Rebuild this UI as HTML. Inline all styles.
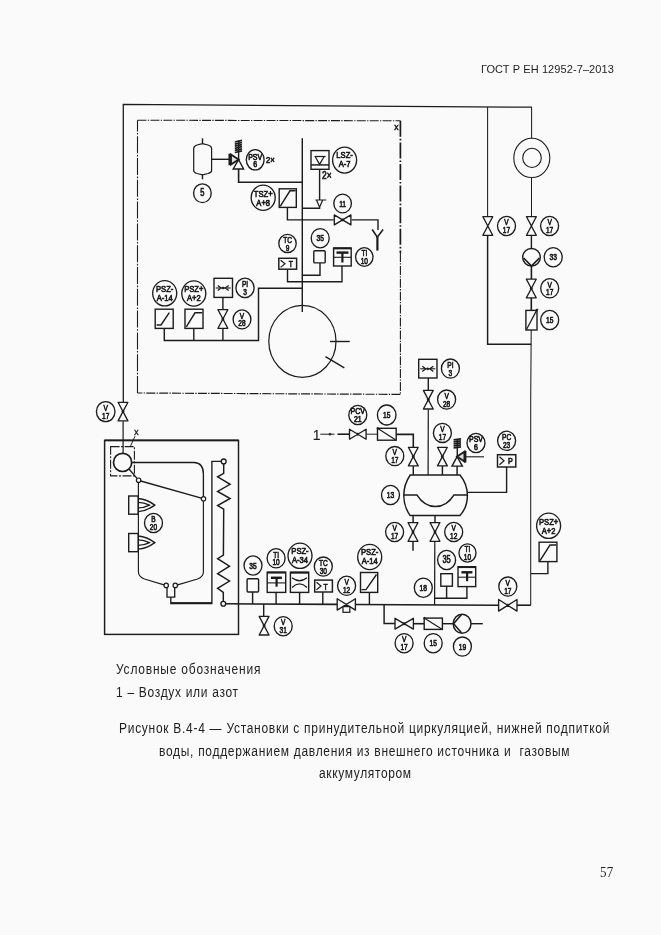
<!DOCTYPE html>
<html lang="ru">
<head>
<meta charset="utf-8">
<title>ГОСТ Р ЕН 12952-7–2013</title>
<style>
html,body{margin:0;padding:0;background:#fafafa;}
body{width:661px;height:935px;position:relative;overflow:hidden;font-family:"Liberation Sans",sans-serif;color:#1e1e1e;}
.t{position:absolute;white-space:pre;font-size:12px;line-height:14px;}
svg{position:absolute;left:0;top:0;will-change:transform;}
.t{will-change:transform;transform:scaleY(1.162);transform-origin:0 100%;}
svg text{font-family:"Liberation Sans",sans-serif;fill:#1c1c1c;}
</style>
</head>
<body>
<div class="t" style="left:480.5px;top:62.3px;font-size:11px;line-height:14px;letter-spacing:0.09px;transform:none">ГОСТ Р ЕН 12952-7–2013</div>
<svg width="661" height="935" viewBox="0 0 661 935">
<path d="M123.3 402.0 L123.3 104.4 L532.0 107.2" stroke="#1c1c1c" stroke-width="1.28" fill="none" />
<path d="M137.5 393.0 L137.5 120.2" stroke="#1c1c1c" stroke-width="1.10" fill="none" stroke-dasharray="17 1.6 1.6 1.6"/>
<path d="M137.5 120.2 L400.4 120.8" stroke="#1c1c1c" stroke-width="1.10" fill="none" stroke-dasharray="9 1.3 1.3 1.3"/>
<path d="M400.4 120.8 L400.4 253.0" stroke="#1c1c1c" stroke-width="1.71" fill="none" stroke-dasharray="16 2 1.6 2"/>
<path d="M400.4 253.0 L400.4 394.4" stroke="#1c1c1c" stroke-width="1.10" fill="none" stroke-dasharray="9 1.3 1.3 1.3"/>
<path d="M400.4 394.4 L137.5 393.0" stroke="#1c1c1c" stroke-width="1.16" fill="none" stroke-dasharray="9 1.3 1.3 1.3"/>
<text transform="translate(396.3 130.4) scale(0.9 1)" font-size="9.5" font-weight="normal" text-anchor="middle" stroke="#1c1c1c" stroke-width="0.5" >x</text>
<path d="M193.7 148.5 Q193.7 146 197 145 L202.5 143.6 L208 145 Q211.6 146 211.6 148.5 L211.6 170.5 Q211.6 172.5 208 173.5 L202.5 174.8 L197 173.5 Q193.7 172.5 193.7 170.5 Z" stroke="#1c1c1c" stroke-width="1.22" fill="none" />
<path d="M202.5 138.3 L202.5 143.6" stroke="#1c1c1c" stroke-width="1.40" fill="none" />
<path d="M202.5 174.8 L202.5 179.3" stroke="#1c1c1c" stroke-width="1.40" fill="none" />
<ellipse cx="202.4" cy="193.2" rx="8.8" ry="9.4" stroke="#1c1c1c" stroke-width="1.34" fill="none"/>
<text transform="translate(202.4 196.4) scale(0.72 1)" font-size="10.4" font-weight="normal" text-anchor="middle" stroke="#1c1c1c" stroke-width="0.7" >5</text>
<path d="M211.6 159.3 L229.0 159.3" stroke="#1c1c1c" stroke-width="1.40" fill="none" />
<path d="M229.8 153.6 L229.8 165.2" stroke="#1c1c1c" stroke-width="2.68" fill="none" />
<path d="M231 154.6 L238.6 159.6 L231 164.6 Z" stroke="#1c1c1c" stroke-width="1.83" fill="#ddd" />
<path d="M238.6 159.6 L233.2 169 L243.6 169 Z" stroke="#1c1c1c" stroke-width="1.40" fill="none" />
<path d="M238.6 159.6 L238.6 140.4" stroke="#1c1c1c" stroke-width="1.40" fill="none" />
<path d="M234.8 142.0 L242.0 140.4" stroke="#1c1c1c" stroke-width="1.71" fill="none" />
<path d="M234.8 144.1 L242.0 142.5" stroke="#1c1c1c" stroke-width="1.71" fill="none" />
<path d="M234.8 146.2 L242.0 144.6" stroke="#1c1c1c" stroke-width="1.71" fill="none" />
<path d="M234.8 148.3 L242.0 146.7" stroke="#1c1c1c" stroke-width="1.71" fill="none" />
<path d="M234.8 150.4 L242.0 148.8" stroke="#1c1c1c" stroke-width="1.71" fill="none" />
<path d="M234.8 152.5 L242.0 150.9" stroke="#1c1c1c" stroke-width="1.71" fill="none" />
<ellipse cx="255.2" cy="159.8" rx="8.9" ry="10.1" stroke="#1c1c1c" stroke-width="1.34" fill="none"/>
<text transform="translate(255.2 159.6) scale(0.8 1)" font-size="8.8" font-weight="normal" text-anchor="middle" stroke="#1c1c1c" stroke-width="0.7" >PSV</text>
<text transform="translate(255.2 167.4) scale(0.8 1)" font-size="8.8" font-weight="normal" text-anchor="middle" stroke="#1c1c1c" stroke-width="0.7" >6</text>
<text transform="translate(266.0 162.8) scale(0.85 1)" font-size="9" font-weight="normal" text-anchor="start" stroke="#1c1c1c" stroke-width="0.7" >2×</text>
<path d="M238.6 169.0 L238.6 182.2 L302.3 182.2" stroke="#1c1c1c" stroke-width="1.59" fill="none" />
<ellipse cx="263.2" cy="197.7" rx="12.0" ry="12.6" stroke="#1c1c1c" stroke-width="1.34" fill="none"/>
<text transform="translate(263.2 196.5) scale(0.8 1)" font-size="9.5" font-weight="normal" text-anchor="middle" stroke="#1c1c1c" stroke-width="0.7" >TSZ+</text>
<text transform="translate(263.2 205.6) scale(0.8 1)" font-size="9.5" font-weight="normal" text-anchor="middle" stroke="#1c1c1c" stroke-width="0.7" >A+8</text>
<rect x="279.2" y="188.8" width="17.1" height="18.6" stroke="#1c1c1c" stroke-width="1.40" fill="none" />
<path d="M280.2 206.4 L290.0 190.8 L295.5 190.8" stroke="#1c1c1c" stroke-width="1.40" fill="none" />
<path d="M287.4 207.4 L287.4 219.8 L333.6 219.9" stroke="#1c1c1c" stroke-width="1.40" fill="none" />
<path d="M302.3 138.2 L302.3 312.0" stroke="#1c1c1c" stroke-width="1.46" fill="none" />
<rect x="311.0" y="150.6" width="18.0" height="18.7" stroke="#1c1c1c" stroke-width="1.40" fill="none" />
<path d="M311.0 164.9 L329.0 164.9" stroke="#1c1c1c" stroke-width="1.46" fill="none" />
<path d="M314.6 156.5 L325.6 156.5" stroke="#1c1c1c" stroke-width="1.22" fill="none" />
<path d="M315.3 156.8 L319.6 164.4 L324 156.8" stroke="#1c1c1c" stroke-width="1.22" fill="none" />
<ellipse cx="344.6" cy="160.1" rx="12.0" ry="13.0" stroke="#1c1c1c" stroke-width="1.34" fill="none"/>
<text transform="translate(344.6 158.1) scale(0.8 1)" font-size="9.5" font-weight="normal" text-anchor="middle" stroke="#1c1c1c" stroke-width="0.7" >LSZ-</text>
<text transform="translate(344.6 167.2) scale(0.8 1)" font-size="9.5" font-weight="normal" text-anchor="middle" stroke="#1c1c1c" stroke-width="0.7" >A-7</text>
<text transform="translate(322.0 179.4) scale(0.8 1)" font-size="10.5" font-weight="normal" text-anchor="start" stroke="#1c1c1c" stroke-width="0.7" >2×</text>
<path d="M319.6 169.3 L319.6 200.0" stroke="#1c1c1c" stroke-width="1.40" fill="none" />
<path d="M315.4 200 L326.3 200 M316.6 200.3 L319.6 207.2 L322.6 200.3" stroke="#1c1c1c" stroke-width="1.22" fill="none" />
<path d="M319.6 207.2 L319.6 208.2 L302.3 208.2" stroke="#1c1c1c" stroke-width="1.40" fill="none" />
<ellipse cx="342.6" cy="203.5" rx="8.8" ry="9.4" stroke="#1c1c1c" stroke-width="1.34" fill="none"/>
<text transform="translate(342.6 206.7) scale(0.72 1)" font-size="9.3" font-weight="normal" text-anchor="middle" stroke="#1c1c1c" stroke-width="0.7" >11</text>
<path d="M334.3 214.9 L334.3 224.9 L350.9 214.9 L350.9 224.9 Z" stroke="#1c1c1c" stroke-width="1.34" fill="none" stroke-linejoin="round"/>
<ellipse cx="342.6" cy="219.9" rx="1.1" ry="1.1" stroke="#1c1c1c" stroke-width="0.73" fill="#1c1c1c"/>
<path d="M351.7 219.9 L378.0 219.9 L378.0 230.0" stroke="#1c1c1c" stroke-width="1.40" fill="none" />
<path d="M372.2 229.5 L377.3 237.2 L383.1 229.5" stroke="#1c1c1c" stroke-width="1.59" fill="none" />
<path d="M377.4 237.0 L377.4 250.6" stroke="#1c1c1c" stroke-width="2.20" fill="none" />
<ellipse cx="287.5" cy="243.5" rx="8.7" ry="9.1" stroke="#1c1c1c" stroke-width="1.34" fill="none"/>
<text transform="translate(287.5 242.7) scale(0.7 1)" font-size="9.4" font-weight="normal" text-anchor="middle" stroke="#1c1c1c" stroke-width="0.7" >TC</text>
<text transform="translate(287.5 250.5) scale(0.7 1)" font-size="9.4" font-weight="normal" text-anchor="middle" stroke="#1c1c1c" stroke-width="0.7" >9</text>
<rect x="278.8" y="258.3" width="17.8" height="10.9" stroke="#1c1c1c" stroke-width="1.46" fill="none" />
<path d="M280.6 260.2 L285 263.8 L280.6 267.4" stroke="#1c1c1c" stroke-width="1.22" fill="none" />
<text transform="translate(290.8 267.4) scale(0.75 1)" font-size="9" font-weight="normal" text-anchor="middle" stroke="#1c1c1c" stroke-width="0.7" >T</text>
<path d="M287.5 269.2 L287.5 281.7 L342.0 281.7 L342.0 266.0" stroke="#1c1c1c" stroke-width="1.40" fill="none" />
<ellipse cx="320.2" cy="238.2" rx="9.0" ry="9.6" stroke="#1c1c1c" stroke-width="1.34" fill="none"/>
<text transform="translate(320.2 241.4) scale(0.72 1)" font-size="9.3" font-weight="normal" text-anchor="middle" stroke="#1c1c1c" stroke-width="0.7" >35</text>
<rect x="313.8" y="250.8" width="11.4" height="12.1" stroke="#1c1c1c" stroke-width="1.40" fill="none" rx="1"/>
<path d="M320.0 263.0 L320.0 275.2 L302.3 275.2" stroke="#1c1c1c" stroke-width="1.40" fill="none" />
<rect x="333.6" y="248.0" width="17.6" height="18.0" stroke="#1c1c1c" stroke-width="1.40" fill="none" />
<path d="M333.6 248.4 L351.2 248.4" stroke="#1c1c1c" stroke-width="1.95" fill="none" />
<path d="M333.6 257.3 L351.2 257.3" stroke="#1c1c1c" stroke-width="1.10" fill="none" />
<path d="M336.5 252.6 L348.5 252.6" stroke="#1c1c1c" stroke-width="2.44" fill="none" />
<path d="M342.4 252.6 L342.4 262.5" stroke="#1c1c1c" stroke-width="2.20" fill="none" />
<ellipse cx="364.3" cy="257.0" rx="8.7" ry="9.3" stroke="#1c1c1c" stroke-width="1.34" fill="none"/>
<text transform="translate(364.3 256.2) scale(0.7 1)" font-size="9.4" font-weight="normal" text-anchor="middle" stroke="#1c1c1c" stroke-width="0.7" >TI</text>
<text transform="translate(364.3 264.0) scale(0.7 1)" font-size="9.4" font-weight="normal" text-anchor="middle" stroke="#1c1c1c" stroke-width="0.7" >10</text>
<path d="M302.3 288.2 L258.5 288.2 L258.5 340.5 L164.3 340.5 L164.3 328.5" stroke="#1c1c1c" stroke-width="1.46" fill="none" />
<path d="M193.8 328.5 L193.8 340.5" stroke="#1c1c1c" stroke-width="1.40" fill="none" />
<path d="M222.9 328.5 L222.9 340.5" stroke="#1c1c1c" stroke-width="1.40" fill="none" />
<ellipse cx="164.7" cy="293.3" rx="12.0" ry="12.6" stroke="#1c1c1c" stroke-width="1.34" fill="none"/>
<text transform="translate(164.7 292.1) scale(0.8 1)" font-size="9.5" font-weight="normal" text-anchor="middle" stroke="#1c1c1c" stroke-width="0.7" >PSZ-</text>
<text transform="translate(164.7 301.2) scale(0.8 1)" font-size="9.5" font-weight="normal" text-anchor="middle" stroke="#1c1c1c" stroke-width="0.7" >A-14</text>
<ellipse cx="193.8" cy="293.5" rx="12.0" ry="12.6" stroke="#1c1c1c" stroke-width="1.34" fill="none"/>
<text transform="translate(193.8 292.3) scale(0.8 1)" font-size="9.5" font-weight="normal" text-anchor="middle" stroke="#1c1c1c" stroke-width="0.7" >PSZ+</text>
<text transform="translate(193.8 301.4) scale(0.8 1)" font-size="9.5" font-weight="normal" text-anchor="middle" stroke="#1c1c1c" stroke-width="0.7" >A+2</text>
<rect x="155.2" y="309.2" width="18.0" height="19.2" stroke="#1c1c1c" stroke-width="1.40" fill="none" />
<path d="M156.6 325.0 L161.0 325.0 L169.3 312.6" stroke="#1c1c1c" stroke-width="1.40" fill="none" />
<rect x="185.0" y="309.2" width="18.0" height="19.2" stroke="#1c1c1c" stroke-width="1.40" fill="none" />
<path d="M186.3 326.9 L195.0 312.8 L202.2 312.8" stroke="#1c1c1c" stroke-width="1.40" fill="none" />
<rect x="214.0" y="278.3" width="18.5" height="19.1" stroke="#1c1c1c" stroke-width="1.40" fill="none" />
<path d="M215.7 288.0 L230.7 288.0" stroke="#1c1c1c" stroke-width="1.10" fill="none" />
<path d="M217.7 285.4 L221.2 288.0 L217.7 290.6 M228.7 285.4 L225.2 288.0 L228.7 290.6" stroke="#1c1c1c" stroke-width="1.22" fill="none" />
<ellipse cx="223.2" cy="288.0" rx="1.0" ry="1.0" stroke="#1c1c1c" stroke-width="0.61" fill="#1c1c1c"/>
<ellipse cx="245.0" cy="287.9" rx="9.1" ry="9.7" stroke="#1c1c1c" stroke-width="1.34" fill="none"/>
<text transform="translate(245.0 287.1) scale(0.7 1)" font-size="9.4" font-weight="normal" text-anchor="middle" stroke="#1c1c1c" stroke-width="0.7" >PI</text>
<text transform="translate(245.0 294.9) scale(0.7 1)" font-size="9.4" font-weight="normal" text-anchor="middle" stroke="#1c1c1c" stroke-width="0.7" >3</text>
<path d="M222.9 297.4 L222.9 309.4" stroke="#1c1c1c" stroke-width="1.40" fill="none" />
<path d="M218.0 309.7 L227.8 309.7 L218.0 328.3 L227.8 328.3 Z" stroke="#1c1c1c" stroke-width="1.34" fill="none" stroke-linejoin="round"/>
<ellipse cx="222.9" cy="319.0" rx="1.1" ry="1.1" stroke="#1c1c1c" stroke-width="0.73" fill="#1c1c1c"/>
<ellipse cx="242.0" cy="319.4" rx="8.9" ry="9.5" stroke="#1c1c1c" stroke-width="1.34" fill="none"/>
<text transform="translate(242.0 318.6) scale(0.7 1)" font-size="9.4" font-weight="normal" text-anchor="middle" stroke="#1c1c1c" stroke-width="0.7" >V</text>
<text transform="translate(242.0 326.4) scale(0.7 1)" font-size="9.4" font-weight="normal" text-anchor="middle" stroke="#1c1c1c" stroke-width="0.7" >28</text>
<ellipse cx="302.4" cy="341.3" rx="33.6" ry="36.0" stroke="#1c1c1c" stroke-width="1.22" fill="none"/>
<path d="M330.0 341.5 L349.7 341.5" stroke="#1c1c1c" stroke-width="1.40" fill="none" />
<path d="M325.5 356.6 L344.3 367.9" stroke="#1c1c1c" stroke-width="1.40" fill="none" />
<path d="M487.6 107.0 L487.6 216.5" stroke="#1c1c1c" stroke-width="1.04" fill="none" />
<path d="M482.9 216.7 L492.7 216.7 L482.9 235.3 L492.7 235.3 Z" stroke="#1c1c1c" stroke-width="1.34" fill="none" stroke-linejoin="round"/>
<ellipse cx="506.5" cy="226.0" rx="9.0" ry="9.6" stroke="#1c1c1c" stroke-width="1.34" fill="none"/>
<text transform="translate(506.5 225.2) scale(0.7 1)" font-size="9.4" font-weight="normal" text-anchor="middle" stroke="#1c1c1c" stroke-width="0.7" >V</text>
<text transform="translate(506.5 233.0) scale(0.7 1)" font-size="9.4" font-weight="normal" text-anchor="middle" stroke="#1c1c1c" stroke-width="0.7" >17</text>
<path d="M487.6 235.5 L487.6 344.2 L531.3 344.2" stroke="#1c1c1c" stroke-width="1.46" fill="none" />
<path d="M531.6 107.2 L531.6 138.3" stroke="#1c1c1c" stroke-width="1.04" fill="none" />
<ellipse cx="531.8" cy="157.9" rx="18.0" ry="19.6" stroke="#1c1c1c" stroke-width="1.10" fill="none"/>
<ellipse cx="532.0" cy="157.9" rx="9.3" ry="9.6" stroke="#1c1c1c" stroke-width="1.10" fill="none"/>
<path d="M531.5 177.5 L531.5 216.5" stroke="#1c1c1c" stroke-width="1.04" fill="none" />
<path d="M526.5 216.7 L536.3 216.7 L526.5 235.3 L536.3 235.3 Z" stroke="#1c1c1c" stroke-width="1.34" fill="none" stroke-linejoin="round"/>
<ellipse cx="549.6" cy="226.0" rx="9.0" ry="9.6" stroke="#1c1c1c" stroke-width="1.34" fill="none"/>
<text transform="translate(549.6 225.2) scale(0.7 1)" font-size="9.4" font-weight="normal" text-anchor="middle" stroke="#1c1c1c" stroke-width="0.7" >V</text>
<text transform="translate(549.6 233.0) scale(0.7 1)" font-size="9.4" font-weight="normal" text-anchor="middle" stroke="#1c1c1c" stroke-width="0.7" >17</text>
<path d="M531.4 235.5 L531.4 248.2" stroke="#1c1c1c" stroke-width="1.40" fill="none" />
<ellipse cx="531.5" cy="257.2" rx="8.8" ry="8.8" stroke="#1c1c1c" stroke-width="1.46" fill="none"/>
<path d="M523.6 258 L531.5 266 L539.4 258" stroke="#1c1c1c" stroke-width="1.71" fill="none" />
<ellipse cx="553.2" cy="257.2" rx="9.0" ry="9.6" stroke="#1c1c1c" stroke-width="1.34" fill="none"/>
<text transform="translate(553.2 260.4) scale(0.72 1)" font-size="9.3" font-weight="normal" text-anchor="middle" stroke="#1c1c1c" stroke-width="0.7" >33</text>
<path d="M531.4 266.0 L531.4 279.0" stroke="#1c1c1c" stroke-width="1.59" fill="none" />
<path d="M526.4 279.2 L536.2 279.2 L526.4 297.8 L536.2 297.8 Z" stroke="#1c1c1c" stroke-width="1.34" fill="none" stroke-linejoin="round"/>
<ellipse cx="531.3" cy="288.5" rx="1.1" ry="1.1" stroke="#1c1c1c" stroke-width="0.73" fill="#1c1c1c"/>
<ellipse cx="549.7" cy="288.3" rx="9.0" ry="9.6" stroke="#1c1c1c" stroke-width="1.34" fill="none"/>
<text transform="translate(549.7 287.5) scale(0.7 1)" font-size="9.4" font-weight="normal" text-anchor="middle" stroke="#1c1c1c" stroke-width="0.7" >V</text>
<text transform="translate(549.7 295.3) scale(0.7 1)" font-size="9.4" font-weight="normal" text-anchor="middle" stroke="#1c1c1c" stroke-width="0.7" >17</text>
<path d="M531.3 298.0 L531.3 310.3" stroke="#1c1c1c" stroke-width="1.59" fill="none" />
<rect x="525.9" y="310.4" width="11.1" height="19.6" stroke="#1c1c1c" stroke-width="1.40" fill="none" />
<path d="M526.5 329.5 L537.0 309.6" stroke="#1c1c1c" stroke-width="1.22" fill="none" />
<ellipse cx="537.0" cy="309.8" rx="0.9" ry="0.9" stroke="#1c1c1c" stroke-width="0.61" fill="#1c1c1c"/>
<ellipse cx="549.7" cy="320.0" rx="9.0" ry="9.6" stroke="#1c1c1c" stroke-width="1.34" fill="none"/>
<text transform="translate(549.7 323.2) scale(0.72 1)" font-size="9.3" font-weight="normal" text-anchor="middle" stroke="#1c1c1c" stroke-width="0.7" >15</text>
<path d="M531.2 330.0 L530.7 400.0 L530.7 605.2" stroke="#1c1c1c" stroke-width="1.04" fill="none" />
<text transform="translate(316.6 440.3) scale(0.9 1)" font-size="15.5" font-weight="normal" text-anchor="middle" stroke="#1c1c1c" stroke-width="0.15" >1</text>
<path d="M320.3 434.2 L334.5 434.2" stroke="#1c1c1c" stroke-width="0.98" fill="none" />
<path d="M337.5 434.2 L349.0 434.2" stroke="#1c1c1c" stroke-width="1.59" fill="none" />
<ellipse cx="330.0" cy="434.2" rx="1.0" ry="1.0" stroke="#1c1c1c" stroke-width="0.61" fill="#1c1c1c"/>
<path d="M349.5 429.2 L349.5 439.2 L366.1 429.2 L366.1 439.2 Z" stroke="#1c1c1c" stroke-width="1.34" fill="none" stroke-linejoin="round"/>
<ellipse cx="357.8" cy="434.2" rx="1.1" ry="1.1" stroke="#1c1c1c" stroke-width="0.73" fill="#1c1c1c"/>
<ellipse cx="357.8" cy="415.0" rx="9.0" ry="9.6" stroke="#1c1c1c" stroke-width="1.34" fill="none"/>
<text transform="translate(357.8 414.2) scale(0.8 1)" font-size="8.8" font-weight="normal" text-anchor="middle" stroke="#1c1c1c" stroke-width="0.7" >PCV</text>
<text transform="translate(357.8 422.0) scale(0.8 1)" font-size="8.8" font-weight="normal" text-anchor="middle" stroke="#1c1c1c" stroke-width="0.7" >21</text>
<path d="M366.6 434.2 L377.5 434.2" stroke="#1c1c1c" stroke-width="0.98" fill="none" />
<rect x="377.5" y="428.3" width="18.7" height="11.9" stroke="#1c1c1c" stroke-width="1.40" fill="none" />
<path d="M377.5 428.3 L396.2 440.2" stroke="#1c1c1c" stroke-width="1.22" fill="none" />
<ellipse cx="377.8" cy="428.3" rx="0.9" ry="0.9" stroke="#1c1c1c" stroke-width="0.61" fill="#1c1c1c"/>
<ellipse cx="386.7" cy="415.0" rx="9.3" ry="10.0" stroke="#1c1c1c" stroke-width="1.34" fill="none"/>
<text transform="translate(386.7 418.2) scale(0.72 1)" font-size="9.3" font-weight="normal" text-anchor="middle" stroke="#1c1c1c" stroke-width="0.7" >15</text>
<path d="M396.2 434.4 L413.3 434.4 L413.3 447.2" stroke="#1c1c1c" stroke-width="1.59" fill="none" />
<path d="M408.4 447.3 L418.2 447.3 L408.4 465.9 L418.2 465.9 Z" stroke="#1c1c1c" stroke-width="1.34" fill="none" stroke-linejoin="round"/>
<ellipse cx="413.3" cy="456.6" rx="1.1" ry="1.1" stroke="#1c1c1c" stroke-width="0.73" fill="#1c1c1c"/>
<ellipse cx="394.8" cy="456.1" rx="9.0" ry="9.6" stroke="#1c1c1c" stroke-width="1.34" fill="none"/>
<text transform="translate(394.8 455.3) scale(0.7 1)" font-size="9.4" font-weight="normal" text-anchor="middle" stroke="#1c1c1c" stroke-width="0.7" >V</text>
<text transform="translate(394.8 463.1) scale(0.7 1)" font-size="9.4" font-weight="normal" text-anchor="middle" stroke="#1c1c1c" stroke-width="0.7" >17</text>
<path d="M413.3 466.1 L413.3 475.0" stroke="#1c1c1c" stroke-width="1.46" fill="none" />
<rect x="418.7" y="359.3" width="18.3" height="18.7" stroke="#1c1c1c" stroke-width="1.40" fill="none" />
<path d="M420.3 368.8 L435.3 368.8" stroke="#1c1c1c" stroke-width="1.10" fill="none" />
<path d="M422.3 366.2 L425.8 368.8 L422.3 371.4 M433.3 366.2 L429.8 368.8 L433.3 371.4" stroke="#1c1c1c" stroke-width="1.22" fill="none" />
<ellipse cx="427.8" cy="368.8" rx="1.0" ry="1.0" stroke="#1c1c1c" stroke-width="0.61" fill="#1c1c1c"/>
<ellipse cx="450.4" cy="368.6" rx="9.0" ry="9.6" stroke="#1c1c1c" stroke-width="1.34" fill="none"/>
<text transform="translate(450.4 367.8) scale(0.7 1)" font-size="9.4" font-weight="normal" text-anchor="middle" stroke="#1c1c1c" stroke-width="0.7" >PI</text>
<text transform="translate(450.4 375.6) scale(0.7 1)" font-size="9.4" font-weight="normal" text-anchor="middle" stroke="#1c1c1c" stroke-width="0.7" >3</text>
<path d="M428.3 378.0 L428.3 390.0" stroke="#1c1c1c" stroke-width="1.40" fill="none" />
<path d="M423.4 390.4 L433.2 390.4 L423.4 409.0 L433.2 409.0 Z" stroke="#1c1c1c" stroke-width="1.34" fill="none" stroke-linejoin="round"/>
<ellipse cx="428.3" cy="399.7" rx="1.1" ry="1.1" stroke="#1c1c1c" stroke-width="0.73" fill="#1c1c1c"/>
<ellipse cx="446.6" cy="399.6" rx="9.0" ry="9.6" stroke="#1c1c1c" stroke-width="1.34" fill="none"/>
<text transform="translate(446.6 398.8) scale(0.7 1)" font-size="9.4" font-weight="normal" text-anchor="middle" stroke="#1c1c1c" stroke-width="0.7" >V</text>
<text transform="translate(446.6 406.6) scale(0.7 1)" font-size="9.4" font-weight="normal" text-anchor="middle" stroke="#1c1c1c" stroke-width="0.7" >28</text>
<path d="M428.3 409.4 L428.1 475.0" stroke="#1c1c1c" stroke-width="1.22" fill="none" />
<ellipse cx="442.4" cy="432.9" rx="9.0" ry="9.6" stroke="#1c1c1c" stroke-width="1.34" fill="none"/>
<text transform="translate(442.4 432.1) scale(0.7 1)" font-size="9.4" font-weight="normal" text-anchor="middle" stroke="#1c1c1c" stroke-width="0.7" >V</text>
<text transform="translate(442.4 439.9) scale(0.7 1)" font-size="9.4" font-weight="normal" text-anchor="middle" stroke="#1c1c1c" stroke-width="0.7" >17</text>
<path d="M437.5 447.3 L447.3 447.3 L437.5 465.9 L447.3 465.9 Z" stroke="#1c1c1c" stroke-width="1.34" fill="none" stroke-linejoin="round"/>
<ellipse cx="442.4" cy="456.6" rx="1.1" ry="1.1" stroke="#1c1c1c" stroke-width="0.73" fill="#1c1c1c"/>
<path d="M442.4 466.1 L442.4 475.0" stroke="#1c1c1c" stroke-width="1.46" fill="none" />
<path d="M457.1 456.6 L452 466.1 L462.4 466.1 Z" stroke="#1c1c1c" stroke-width="1.40" fill="none" />
<path d="M457.1 456.6 L464.4 451.8 L464.4 461.6 Z" stroke="#1c1c1c" stroke-width="1.83" fill="#ddd" />
<path d="M465.2 450.8 L465.2 462.4" stroke="#1c1c1c" stroke-width="2.44" fill="none" />
<path d="M457.3 456.6 L457.3 439.0" stroke="#1c1c1c" stroke-width="1.40" fill="none" />
<path d="M453.6 439.9 L461.0 438.9" stroke="#1c1c1c" stroke-width="1.71" fill="none" />
<path d="M453.6 441.9 L461.0 440.9" stroke="#1c1c1c" stroke-width="1.71" fill="none" />
<path d="M453.6 443.9 L461.0 442.9" stroke="#1c1c1c" stroke-width="1.71" fill="none" />
<path d="M453.6 445.9 L461.0 444.9" stroke="#1c1c1c" stroke-width="1.71" fill="none" />
<path d="M453.6 447.9 L461.0 446.9" stroke="#1c1c1c" stroke-width="1.71" fill="none" />
<path d="M457.1 466.1 L457.1 475.0" stroke="#1c1c1c" stroke-width="1.46" fill="none" />
<ellipse cx="476.0" cy="443.0" rx="9.0" ry="9.6" stroke="#1c1c1c" stroke-width="1.34" fill="none"/>
<text transform="translate(476.0 442.2) scale(0.8 1)" font-size="8.8" font-weight="normal" text-anchor="middle" stroke="#1c1c1c" stroke-width="0.7" >PSV</text>
<text transform="translate(476.0 450.0) scale(0.8 1)" font-size="8.8" font-weight="normal" text-anchor="middle" stroke="#1c1c1c" stroke-width="0.7" >6</text>
<path d="M465.7 456.8 L484.0 456.8" stroke="#1c1c1c" stroke-width="1.10" fill="none" />
<ellipse cx="506.6" cy="440.8" rx="9.0" ry="9.6" stroke="#1c1c1c" stroke-width="1.34" fill="none"/>
<text transform="translate(506.6 440.0) scale(0.7 1)" font-size="9.4" font-weight="normal" text-anchor="middle" stroke="#1c1c1c" stroke-width="0.7" >PC</text>
<text transform="translate(506.6 447.8) scale(0.7 1)" font-size="9.4" font-weight="normal" text-anchor="middle" stroke="#1c1c1c" stroke-width="0.7" >23</text>
<rect x="497.5" y="454.7" width="18.3" height="12.3" stroke="#1c1c1c" stroke-width="1.46" fill="none" />
<path d="M499.5 456.8 L504 460.8 L499.5 464.8" stroke="#1c1c1c" stroke-width="1.22" fill="none" />
<text transform="translate(510.3 464.4) scale(0.8 1)" font-size="9" font-weight="normal" text-anchor="middle" stroke="#1c1c1c" stroke-width="0.7" >P</text>
<path d="M506.6 467.0 L506.6 492.4 L467.3 492.4" stroke="#1c1c1c" stroke-width="1.40" fill="none" />
<path d="M410.2 475 L460 475 C464.5 480.5 467.4 487.5 467.4 495.4 C467.4 503.5 464.5 510.5 460 515.6 L410.2 515.6 C406.5 510.5 403.8 503.5 403.8 495.4 C403.8 487.5 406.5 480.5 410.2 475 Z" stroke="#1c1c1c" stroke-width="1.46" fill="none" />
<path d="M403.8 494.9 L416.8 494.9 C422 503 428 506.6 435.4 506.6 C443 506.6 449 503 454 494.9 L467.4 494.9" stroke="#1c1c1c" stroke-width="1.46" fill="none" />
<ellipse cx="390.5" cy="495.0" rx="9.0" ry="9.6" stroke="#1c1c1c" stroke-width="1.34" fill="none"/>
<text transform="translate(390.5 498.2) scale(0.72 1)" font-size="9.3" font-weight="normal" text-anchor="middle" stroke="#1c1c1c" stroke-width="0.7" >13</text>
<path d="M413.1 515.6 L413.1 522.6" stroke="#1c1c1c" stroke-width="1.46" fill="none" />
<path d="M435.0 515.6 L435.0 522.6" stroke="#1c1c1c" stroke-width="1.46" fill="none" />
<path d="M408.1 522.7 L417.9 522.7 L408.1 541.3 L417.9 541.3 Z" stroke="#1c1c1c" stroke-width="1.34" fill="none" stroke-linejoin="round"/>
<ellipse cx="413.0" cy="532.0" rx="1.1" ry="1.1" stroke="#1c1c1c" stroke-width="0.73" fill="#1c1c1c"/>
<path d="M430.1 522.7 L439.9 522.7 L430.1 541.3 L439.9 541.3 Z" stroke="#1c1c1c" stroke-width="1.34" fill="none" stroke-linejoin="round"/>
<ellipse cx="435.0" cy="532.0" rx="1.1" ry="1.1" stroke="#1c1c1c" stroke-width="0.73" fill="#1c1c1c"/>
<ellipse cx="394.6" cy="532.0" rx="9.0" ry="9.6" stroke="#1c1c1c" stroke-width="1.34" fill="none"/>
<text transform="translate(394.6 531.2) scale(0.7 1)" font-size="9.4" font-weight="normal" text-anchor="middle" stroke="#1c1c1c" stroke-width="0.7" >V</text>
<text transform="translate(394.6 539.0) scale(0.7 1)" font-size="9.4" font-weight="normal" text-anchor="middle" stroke="#1c1c1c" stroke-width="0.7" >17</text>
<ellipse cx="453.7" cy="532.0" rx="9.0" ry="9.6" stroke="#1c1c1c" stroke-width="1.34" fill="none"/>
<text transform="translate(453.7 531.2) scale(0.7 1)" font-size="9.4" font-weight="normal" text-anchor="middle" stroke="#1c1c1c" stroke-width="0.7" >V</text>
<text transform="translate(453.7 539.0) scale(0.7 1)" font-size="9.4" font-weight="normal" text-anchor="middle" stroke="#1c1c1c" stroke-width="0.7" >12</text>
<path d="M413.0 541.6 L413.0 550.8" stroke="#1c1c1c" stroke-width="1.46" fill="none" />
<path d="M434.8 541.6 L434.6 604.9" stroke="#1c1c1c" stroke-width="1.22" fill="none" />
<ellipse cx="446.6" cy="560.0" rx="9.0" ry="9.6" stroke="#1c1c1c" stroke-width="1.34" fill="none"/>
<text transform="translate(446.6 563.2) scale(0.72 1)" font-size="10.4" font-weight="normal" text-anchor="middle" stroke="#1c1c1c" stroke-width="0.7" >35</text>
<ellipse cx="467.5" cy="553.0" rx="8.5" ry="9.1" stroke="#1c1c1c" stroke-width="1.34" fill="none"/>
<text transform="translate(467.5 552.2) scale(0.7 1)" font-size="9.4" font-weight="normal" text-anchor="middle" stroke="#1c1c1c" stroke-width="0.7" >TI</text>
<text transform="translate(467.5 560.0) scale(0.7 1)" font-size="9.4" font-weight="normal" text-anchor="middle" stroke="#1c1c1c" stroke-width="0.7" >10</text>
<rect x="440.8" y="573.7" width="11.6" height="12.5" stroke="#1c1c1c" stroke-width="1.40" fill="none" />
<rect x="458.0" y="566.7" width="17.7" height="19.9" stroke="#1c1c1c" stroke-width="1.40" fill="none" />
<path d="M458.0 567.1 L475.7 567.1" stroke="#1c1c1c" stroke-width="1.95" fill="none" />
<path d="M458.0 577.2 L475.7 577.2" stroke="#1c1c1c" stroke-width="1.10" fill="none" />
<path d="M461.4 572.3 L472.4 572.3" stroke="#1c1c1c" stroke-width="2.44" fill="none" />
<path d="M467.1 572.3 L467.1 581.2" stroke="#1c1c1c" stroke-width="2.20" fill="none" />
<path d="M446.6 586.2 L446.6 598.2" stroke="#1c1c1c" stroke-width="1.40" fill="none" />
<path d="M466.9 586.6 L466.9 598.2 L434.6 598.2" stroke="#1c1c1c" stroke-width="1.40" fill="none" />
<ellipse cx="423.3" cy="587.7" rx="9.0" ry="9.6" stroke="#1c1c1c" stroke-width="1.34" fill="none"/>
<text transform="translate(423.3 590.9) scale(0.72 1)" font-size="9.3" font-weight="normal" text-anchor="middle" stroke="#1c1c1c" stroke-width="0.7" >18</text>
<ellipse cx="548.6" cy="525.8" rx="12.0" ry="12.6" stroke="#1c1c1c" stroke-width="1.34" fill="none"/>
<text transform="translate(548.6 524.6) scale(0.8 1)" font-size="9.5" font-weight="normal" text-anchor="middle" stroke="#1c1c1c" stroke-width="0.7" >PSZ+</text>
<text transform="translate(548.6 533.7) scale(0.8 1)" font-size="9.5" font-weight="normal" text-anchor="middle" stroke="#1c1c1c" stroke-width="0.7" >A+2</text>
<rect x="539.1" y="542.2" width="17.8" height="19.4" stroke="#1c1c1c" stroke-width="1.40" fill="none" />
<path d="M540.0 560.6 L550.0 545.0 L556.0 545.0" stroke="#1c1c1c" stroke-width="1.40" fill="none" />
<path d="M547.9 561.6 L547.9 573.6 L530.8 573.6" stroke="#1c1c1c" stroke-width="1.40" fill="none" />
<path d="M225.5 603.8 L337.0 604.4" stroke="#1c1c1c" stroke-width="1.59" fill="none" />
<path d="M355.4 604.5 L498.6 605.2" stroke="#1c1c1c" stroke-width="1.59" fill="none" />
<path d="M517.0 605.2 L530.8 605.2" stroke="#1c1c1c" stroke-width="1.59" fill="none" />
<path d="M498.6 599.5 L498.6 611.1 L517.0 599.5 L517.0 611.1 Z" stroke="#1c1c1c" stroke-width="1.34" fill="none" stroke-linejoin="round"/>
<ellipse cx="507.8" cy="605.3" rx="1.1" ry="1.1" stroke="#1c1c1c" stroke-width="0.73" fill="#1c1c1c"/>
<ellipse cx="507.8" cy="586.6" rx="9.0" ry="9.6" stroke="#1c1c1c" stroke-width="1.34" fill="none"/>
<text transform="translate(507.8 585.8) scale(0.7 1)" font-size="9.4" font-weight="normal" text-anchor="middle" stroke="#1c1c1c" stroke-width="0.7" >V</text>
<text transform="translate(507.8 593.6) scale(0.7 1)" font-size="9.4" font-weight="normal" text-anchor="middle" stroke="#1c1c1c" stroke-width="0.7" >17</text>
<path d="M337.2 598.7 L337.2 610.1 L355.4 598.7 L355.4 610.1 Z" stroke="#1c1c1c" stroke-width="1.34" fill="none" stroke-linejoin="round"/>
<rect x="343.0" y="606.6" width="6.8" height="5.7" stroke="#1c1c1c" stroke-width="1.22" fill="#fafafa" />
<ellipse cx="346.6" cy="585.8" rx="9.0" ry="9.6" stroke="#1c1c1c" stroke-width="1.34" fill="none"/>
<text transform="translate(346.6 585.0) scale(0.7 1)" font-size="9.4" font-weight="normal" text-anchor="middle" stroke="#1c1c1c" stroke-width="0.7" >V</text>
<text transform="translate(346.6 592.8) scale(0.7 1)" font-size="9.4" font-weight="normal" text-anchor="middle" stroke="#1c1c1c" stroke-width="0.7" >12</text>
<ellipse cx="369.7" cy="557.0" rx="12.0" ry="12.6" stroke="#1c1c1c" stroke-width="1.34" fill="none"/>
<text transform="translate(369.7 555.0) scale(0.8 1)" font-size="9.5" font-weight="normal" text-anchor="middle" stroke="#1c1c1c" stroke-width="0.7" >PSZ-</text>
<text transform="translate(369.7 564.1) scale(0.8 1)" font-size="9.5" font-weight="normal" text-anchor="middle" stroke="#1c1c1c" stroke-width="0.7" >A-14</text>
<rect x="360.5" y="572.5" width="17.2" height="19.9" stroke="#1c1c1c" stroke-width="1.40" fill="none" />
<path d="M361.5 589.6 L366.0 589.6 L376.5 574.5" stroke="#1c1c1c" stroke-width="1.40" fill="none" />
<path d="M369.4 592.4 L369.4 604.5" stroke="#1c1c1c" stroke-width="1.40" fill="none" />
<ellipse cx="323.3" cy="566.6" rx="9.0" ry="9.6" stroke="#1c1c1c" stroke-width="1.34" fill="none"/>
<text transform="translate(323.3 565.8) scale(0.7 1)" font-size="9.4" font-weight="normal" text-anchor="middle" stroke="#1c1c1c" stroke-width="0.7" >TC</text>
<text transform="translate(323.3 573.6) scale(0.7 1)" font-size="9.4" font-weight="normal" text-anchor="middle" stroke="#1c1c1c" stroke-width="0.7" >30</text>
<rect x="314.7" y="580.1" width="17.7" height="11.9" stroke="#1c1c1c" stroke-width="1.46" fill="none" />
<path d="M316.5 582.2 L321 586 L316.5 589.8" stroke="#1c1c1c" stroke-width="1.22" fill="none" />
<text transform="translate(325.6 590.2) scale(0.75 1)" font-size="9" font-weight="normal" text-anchor="middle" stroke="#1c1c1c" stroke-width="0.7" >T</text>
<path d="M322.8 592.0 L322.8 604.3" stroke="#1c1c1c" stroke-width="1.40" fill="none" />
<ellipse cx="300.0" cy="555.8" rx="12.0" ry="12.6" stroke="#1c1c1c" stroke-width="1.34" fill="none"/>
<text transform="translate(300.0 553.6) scale(0.8 1)" font-size="9.5" font-weight="normal" text-anchor="middle" stroke="#1c1c1c" stroke-width="0.7" >PSZ-</text>
<text transform="translate(300.0 562.7) scale(0.8 1)" font-size="9.5" font-weight="normal" text-anchor="middle" stroke="#1c1c1c" stroke-width="0.7" >A-34</text>
<rect x="290.4" y="572.2" width="18.3" height="20.2" stroke="#1c1c1c" stroke-width="1.40" fill="none" />
<path d="M290.4 572.7 L308.7 572.7" stroke="#1c1c1c" stroke-width="1.95" fill="none" />
<path d="M292 577.8 Q299.5 583.6 307 577.8 M292 587.4 Q299.5 580.4 307 587.4" stroke="#1c1c1c" stroke-width="1.34" fill="none" />
<path d="M299.6 592.4 L299.6 604.2" stroke="#1c1c1c" stroke-width="1.40" fill="none" />
<ellipse cx="276.1" cy="558.3" rx="9.0" ry="9.6" stroke="#1c1c1c" stroke-width="1.34" fill="none"/>
<text transform="translate(276.1 557.5) scale(0.7 1)" font-size="9.4" font-weight="normal" text-anchor="middle" stroke="#1c1c1c" stroke-width="0.7" >TI</text>
<text transform="translate(276.1 565.3) scale(0.7 1)" font-size="9.4" font-weight="normal" text-anchor="middle" stroke="#1c1c1c" stroke-width="0.7" >10</text>
<rect x="267.2" y="572.2" width="18.5" height="20.2" stroke="#1c1c1c" stroke-width="1.40" fill="none" />
<path d="M267.2 572.6 L285.7 572.6" stroke="#1c1c1c" stroke-width="1.95" fill="none" />
<path d="M267.2 582.9 L285.7 582.9" stroke="#1c1c1c" stroke-width="1.10" fill="none" />
<path d="M270.9 577.8 L281.9 577.8" stroke="#1c1c1c" stroke-width="2.44" fill="none" />
<path d="M276.6 577.8 L276.6 586.7" stroke="#1c1c1c" stroke-width="2.20" fill="none" />
<path d="M276.1 592.4 L276.1 604.1" stroke="#1c1c1c" stroke-width="1.40" fill="none" />
<ellipse cx="253.0" cy="565.5" rx="9.0" ry="9.6" stroke="#1c1c1c" stroke-width="1.34" fill="none"/>
<text transform="translate(253.0 568.7) scale(0.72 1)" font-size="9.3" font-weight="normal" text-anchor="middle" stroke="#1c1c1c" stroke-width="0.7" >35</text>
<rect x="247.1" y="578.7" width="11.5" height="13.3" stroke="#1c1c1c" stroke-width="1.40" fill="none" rx="1"/>
<path d="M252.6 592.0 L252.6 604.0" stroke="#1c1c1c" stroke-width="1.40" fill="none" />
<path d="M263.7 604.0 L263.7 616.0" stroke="#1c1c1c" stroke-width="1.40" fill="none" />
<path d="M259.2 616.4 L269.0 616.4 L259.2 635.0 L269.0 635.0 Z" stroke="#1c1c1c" stroke-width="1.34" fill="none" stroke-linejoin="round"/>
<ellipse cx="264.1" cy="625.7" rx="1.1" ry="1.1" stroke="#1c1c1c" stroke-width="0.73" fill="#1c1c1c"/>
<ellipse cx="283.2" cy="626.2" rx="9.0" ry="9.6" stroke="#1c1c1c" stroke-width="1.34" fill="none"/>
<text transform="translate(283.2 625.4) scale(0.7 1)" font-size="9.4" font-weight="normal" text-anchor="middle" stroke="#1c1c1c" stroke-width="0.7" >V</text>
<text transform="translate(283.2 633.2) scale(0.7 1)" font-size="9.4" font-weight="normal" text-anchor="middle" stroke="#1c1c1c" stroke-width="0.7" >31</text>
<path d="M384.1 604.6 L384.1 623.6 L395.0 623.6" stroke="#1c1c1c" stroke-width="1.46" fill="none" />
<path d="M395.0 618.3 L395.0 629.1 L413.4 618.3 L413.4 629.1 Z" stroke="#1c1c1c" stroke-width="1.34" fill="none" stroke-linejoin="round"/>
<ellipse cx="404.2" cy="623.7" rx="1.1" ry="1.1" stroke="#1c1c1c" stroke-width="0.73" fill="#1c1c1c"/>
<path d="M413.6 623.7 L424.1 623.7" stroke="#1c1c1c" stroke-width="1.59" fill="none" />
<rect x="424.2" y="618.1" width="18.2" height="11.3" stroke="#1c1c1c" stroke-width="1.40" fill="none" />
<path d="M424.2 618.1 L442.4 629.4" stroke="#1c1c1c" stroke-width="1.22" fill="none" />
<ellipse cx="424.5" cy="618.2" rx="0.9" ry="0.9" stroke="#1c1c1c" stroke-width="0.61" fill="#1c1c1c"/>
<path d="M442.4 623.7 L453.2 623.7" stroke="#1c1c1c" stroke-width="1.46" fill="none" />
<ellipse cx="462.1" cy="623.7" rx="8.9" ry="9.5" stroke="#1c1c1c" stroke-width="1.46" fill="none"/>
<path d="M461.5 614.6 L453.6 623.7 L461.5 632.8" stroke="#1c1c1c" stroke-width="1.59" fill="none" />
<path d="M471.0 623.7 L482.8 623.7" stroke="#1c1c1c" stroke-width="1.40" fill="none" />
<ellipse cx="404.1" cy="643.2" rx="9.0" ry="9.6" stroke="#1c1c1c" stroke-width="1.34" fill="none"/>
<text transform="translate(404.1 642.4) scale(0.7 1)" font-size="9.4" font-weight="normal" text-anchor="middle" stroke="#1c1c1c" stroke-width="0.7" >V</text>
<text transform="translate(404.1 650.2) scale(0.7 1)" font-size="9.4" font-weight="normal" text-anchor="middle" stroke="#1c1c1c" stroke-width="0.7" >17</text>
<ellipse cx="433.2" cy="643.2" rx="9.0" ry="9.6" stroke="#1c1c1c" stroke-width="1.34" fill="none"/>
<text transform="translate(433.2 646.4) scale(0.72 1)" font-size="9.3" font-weight="normal" text-anchor="middle" stroke="#1c1c1c" stroke-width="0.7" >15</text>
<ellipse cx="462.4" cy="646.6" rx="9.0" ry="9.6" stroke="#1c1c1c" stroke-width="1.34" fill="none"/>
<text transform="translate(462.4 649.8) scale(0.72 1)" font-size="9.3" font-weight="normal" text-anchor="middle" stroke="#1c1c1c" stroke-width="0.7" >19</text>
<path d="M118.1 402.3 L127.9 402.3 L118.1 420.9 L127.9 420.9 Z" stroke="#1c1c1c" stroke-width="1.34" fill="none" stroke-linejoin="round"/>
<ellipse cx="123.0" cy="411.6" rx="1.1" ry="1.1" stroke="#1c1c1c" stroke-width="0.73" fill="#1c1c1c"/>
<ellipse cx="105.7" cy="411.6" rx="9.3" ry="10.0" stroke="#1c1c1c" stroke-width="1.34" fill="none"/>
<text transform="translate(105.7 410.8) scale(0.7 1)" font-size="9.4" font-weight="normal" text-anchor="middle" stroke="#1c1c1c" stroke-width="0.7" >V</text>
<text transform="translate(105.7 418.6) scale(0.7 1)" font-size="9.4" font-weight="normal" text-anchor="middle" stroke="#1c1c1c" stroke-width="0.7" >17</text>
<path d="M123.1 421.3 L123.1 452.9" stroke="#1c1c1c" stroke-width="1.22" fill="none" />
<text transform="translate(136.5 435.2) scale(0.9 1)" font-size="9.5" font-weight="normal" text-anchor="middle" stroke="#1c1c1c" stroke-width="0.4" >x</text>
<path d="M135.0 436.2 L130.3 446.6" stroke="#1c1c1c" stroke-width="0.98" fill="none" />
<rect x="104.6" y="440.4" width="133.9" height="194.0" stroke="#1c1c1c" stroke-width="1.46" fill="none" />
<path d="M104.6 440.3 L238.5 440.3" stroke="#1c1c1c" stroke-width="1.83" fill="none" />
<rect x="110.6" y="446.6" width="23.8" height="29.3" stroke="#1c1c1c" stroke-width="1.10" fill="none" stroke-dasharray="9 1.5 2 1.5"/>
<ellipse cx="122.6" cy="462.4" rx="9.1" ry="9.1" stroke="#1c1c1c" stroke-width="1.71" fill="none"/>
<path d="M131.7 462.5 L194 462.5 Q203.4 462.8 203.4 474 L203.4 496.5" stroke="#1c1c1c" stroke-width="1.34" fill="none" />
<path d="M203.4 501 L203.4 571.5 Q203.6 577 197.5 579 L177.6 584.9" stroke="#1c1c1c" stroke-width="1.16" fill="none" />
<path d="M129 469 L137 478.4" stroke="#1c1c1c" stroke-width="1.34" fill="none" />
<ellipse cx="138.6" cy="480.2" rx="2.2" ry="2.2" stroke="#1c1c1c" stroke-width="1.22" fill="none"/>
<path d="M138.4 482.4 L138.4 571.5 Q138.4 577 144.5 579 L164 584.9" stroke="#1c1c1c" stroke-width="1.16" fill="none" />
<path d="M140.7 481.0 L201.4 498.2" stroke="#1c1c1c" stroke-width="1.34" fill="none" />
<ellipse cx="203.5" cy="498.8" rx="2.2" ry="2.2" stroke="#1c1c1c" stroke-width="1.22" fill="#fafafa"/>
<ellipse cx="166.2" cy="585.4" rx="2.2" ry="2.2" stroke="#1c1c1c" stroke-width="1.22" fill="none"/>
<ellipse cx="175.3" cy="585.4" rx="2.2" ry="2.2" stroke="#1c1c1c" stroke-width="1.22" fill="none"/>
<path d="M167 587.6 L167 597.2 L174.7 597.2 L174.7 587.6 M170.8 597.2 L170.8 603.5 L211.9 603.5 L211.9 461.4 L221.5 461.4" stroke="#1c1c1c" stroke-width="1.34" fill="none" />
<path d="M171.0 602.6 L211.9 602.6" stroke="#1c1c1c" stroke-width="0.98" fill="none" />
<rect x="128.7" y="496.0" width="9.5" height="18.2" stroke="#1c1c1c" stroke-width="1.40" fill="none" />
<path d="M138.3 498.5 Q147 499.3 154.8 505.1 Q147 510.9 138.3 511.7" stroke="#1c1c1c" stroke-width="1.34" fill="none" />
<path d="M138.3 502.3 Q144 502.3 149.5 505.1 Q144 507.9 138.3 507.9" stroke="#1c1c1c" stroke-width="1.22" fill="none" />
<rect x="128.7" y="533.5" width="9.5" height="18.2" stroke="#1c1c1c" stroke-width="1.40" fill="none" />
<path d="M138.3 536.0 Q147 536.8 154.8 542.6 Q147 548.4 138.3 549.2" stroke="#1c1c1c" stroke-width="1.34" fill="none" />
<path d="M138.3 539.8 Q144 539.8 149.5 542.6 Q144 545.4 138.3 545.4" stroke="#1c1c1c" stroke-width="1.22" fill="none" />
<ellipse cx="153.5" cy="523.0" rx="9.0" ry="9.6" stroke="#1c1c1c" stroke-width="1.34" fill="none"/>
<text transform="translate(153.5 522.2) scale(0.7 1)" font-size="9.4" font-weight="normal" text-anchor="middle" stroke="#1c1c1c" stroke-width="0.7" >B</text>
<text transform="translate(153.5 530.0) scale(0.7 1)" font-size="9.4" font-weight="normal" text-anchor="middle" stroke="#1c1c1c" stroke-width="0.7" >20</text>
<ellipse cx="223.7" cy="461.4" rx="2.4" ry="2.4" stroke="#1c1c1c" stroke-width="1.34" fill="none"/>
<path d="M223.7 463.7 L223.7 473.3 L217.6 476.8 L230.1 484.3 L217.6 491.4 L230.1 498.5 L217.6 505.6 L223.7 509.2 L223.4 555.0 L217.6 558.7 L229.5 566.2 L217.6 573.7 L229.5 581.0 L217.6 588.3 L223.3 592.4 L223.3 601.4" stroke="#1c1c1c" stroke-width="1.46" fill="none" />
<ellipse cx="223.3" cy="603.8" rx="2.4" ry="2.4" stroke="#1c1c1c" stroke-width="1.34" fill="none"/>
</svg>
<div class="t" style="left:115.9px;top:663.2px;letter-spacing:0.78px">Условные обозначения</div>
<div class="t" style="left:115.9px;top:686.1px;letter-spacing:0.69px">1 – Воздух или азот</div>
<div class="t" style="left:118.8px;top:722.2px;letter-spacing:0.715px">Рисунок В.4-4 — Установки с принудительной циркуляцией, нижней подпиткой</div>
<div class="t" style="left:159.4px;top:744.8px;letter-spacing:0.70px">воды, поддержанием давления из внешнего источника и  газовым</div>
<div class="t" style="left:318.8px;top:767.4px;letter-spacing:0.64px">аккумулятором</div>
<div class="t" style="left:600.2px;top:865.4px;font-family:'Liberation Serif',serif;font-size:13px;line-height:15px;letter-spacing:0.2px;transform:scaleY(1.06)">57</div>
</body>
</html>
